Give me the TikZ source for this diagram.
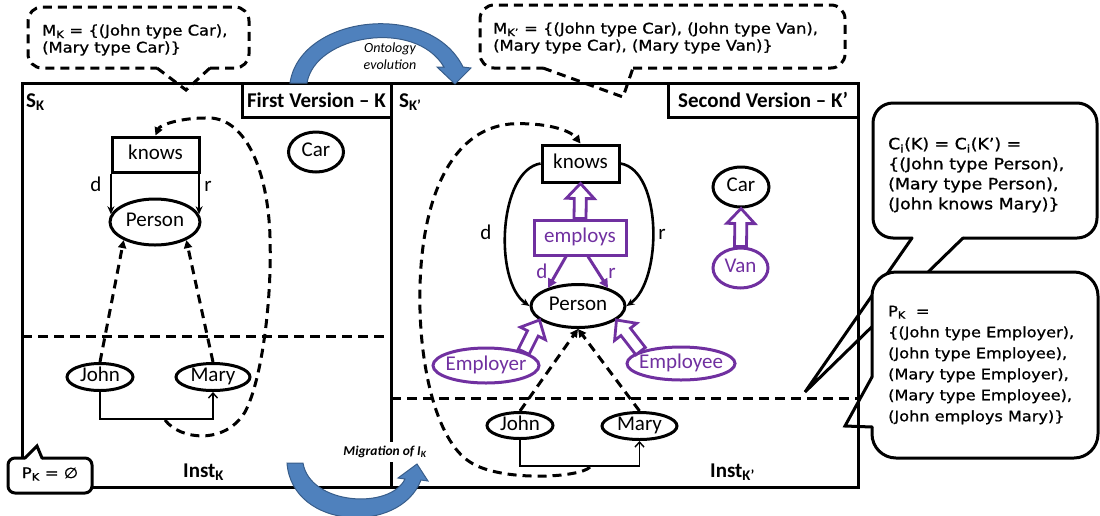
\documentclass[tikz,border=0pt]{standalone}
\usepackage{fontspec}
\setmainfont{Carlito}
\newfontfamily\comicf[FakeStretch=1.12, FakeBold=1]{DejaVu Sans}
\usetikzlibrary{arrows.meta,calc,shapes.geometric}
\definecolor{purp}{HTML}{7030A0}
\definecolor{arrblue}{HTML}{4F81BD}
\definecolor{arredge}{HTML}{385D8A}
\newcommand\hollowarr[2]{%
  \coordinate (hh) at ($(#2)!15pt!(#1)$);
  \draw[hollow] ($(#1)!6pt!90:(#2)$) -- ($(hh)!6pt!90:(#2)$) -- ($(hh)!14pt!90:(#2)$) -- (#2)
     -- ($(hh)!14pt!-90:(#2)$) -- ($(hh)!6pt!-90:(#2)$) -- ($(#1)!6pt!-90:(#2)$) -- cycle;}
\begin{document}
\begin{tikzpicture}[x=1pt,y=-1pt,
  frame/.style={line width=3pt},
  sepline/.style={line width=3pt, dash pattern=on 10pt off 6pt},
  lbl/.style={font=\fontsize{21}{24}\selectfont, inner sep=0pt, text height=13pt, text depth=4pt},
  blbl/.style={font=\bfseries\fontsize{21}{24}\selectfont, inner sep=0pt},
  ellb/.style={ellipse, draw, line width=3pt, inner sep=0pt},
  boxb/.style={rectangle, draw, line width=3pt, inner sep=0pt},
  ctext/.style={font=\comicf\fontsize{14.6}{17}\selectfont, align=left, inner sep=0pt},
  btext/.style={font=\comicf\fontsize{15.5}{20}\selectfont, align=left, inner sep=0pt},
  blk/.style={line width=2.6pt, -{Stealth[length=8pt,width=7pt]}},
  pur/.style={draw=purp, line width=3pt, -{Triangle[length=9pt,width=9pt]}},
  dsh/.style={line width=3pt, dash pattern=on 9pt off 6pt, -{Triangle[length=8pt,width=8pt]}},
  thinarr/.style={line width=1.4pt, -{Straight Barb[length=5pt,width=9pt]}},
  hollow/.style={draw=purp, fill=white, line width=2.8pt, line join=miter},
  bluearr/.style={fill=arrblue, draw=arredge, line width=1pt},
  callout/.style={line width=3pt, line cap=round, line join=round},
  dcallout/.style={line width=3pt, dash pattern=on 9pt off 6pt},
]
\useasboundingbox (0,0) rectangle (1100,515);
\clip (0,0) rectangle (1100,515);

% frames
\draw[frame] (22,83) rectangle (391,487);
\draw[frame] (391,83) rectangle (858,487);
\draw[sepline] (22,336) -- (391,336);
\draw[sepline] (391,398) -- (858,398);
\node[boxb, fill=white, minimum width=149, minimum height=34, font=\bfseries\fontsize{21}{24}\selectfont] (v1) at (316.5,100) {First Version – K};
\node[boxb, fill=white, minimum width=190, minimum height=34, font=\bfseries\fontsize{21}{24}\selectfont] (v2) at (763,100) {Second Version – K’};
\node[blbl, anchor=base west] (sk) at (26,107) {S\textsubscript{K}};
\node[blbl, anchor=base west] (sk2) at (399,107) {S\textsubscript{K’}};
\node[blbl, anchor=base west] (ik) at (183,477) {Inst\textsubscript{K}};
\node[blbl, anchor=base west] (ik2) at (710,477) {Inst\textsubscript{K’}};

% callouts on the right
\fill[white, rounded corners=20pt] (873,103) rectangle (1097,238);
\draw[callout, rounded corners=20pt] (912,238) -- (873,238) -- (873,103) -- (1097,103) -- (1097,238) -- (963,238);
\draw[callout, line join=miter] (912,238) -- (805,392) -- (963,238);
\node[btext, anchor=west] (cit) at (888,175) {C\textsubscript{i}(K) = C\textsubscript{i}(K’) =\\\{(John type Person),\\(Mary type Person),\\(John knows Mary)\}};
\fill[white, rounded corners=24pt] (872,272) rectangle (1098,458);
\draw[callout, rounded corners=24pt] (872,377) -- (872,272) -- (1098,272) -- (1098,458) -- (872,458) -- (872,427);
\draw[callout, line join=miter] (872,377) -- (845,426) -- (872,427);
\node[btext, anchor=west, font=\comicf\fontsize{14.4}{21}\selectfont] (pkt) at (888,365) {P\textsubscript{K}\ \ =\\\{(John type Employer),\\(John type Employee),\\(Mary type Employer),\\(Mary type Employee),\\(John employs Mary)\}};

% left version
\node[boxb, minimum width=87, minimum height=35, lbl] (kn1) at (155.5,154.5) {knows};
\node[ellb, minimum width=90, minimum height=46, lbl] (pe1) at (155,222) {Person};
\node[ellb, minimum width=55, minimum height=40, lbl] (car1) at (316,152) {Car};
\node[ellb, minimum width=66, minimum height=27, lbl] (jo1) at (100,377) {John};
\node[ellb, minimum width=74, minimum height=27, lbl] (ma1) at (213,377) {Mary};
\draw[blk] (pe1.170 |- kn1.south) -- (pe1.170);
\draw[blk] (pe1.10 |- kn1.south) -- (pe1.10);
\node[lbl] (d1) at (96,187) {d};
\node[lbl] (r1) at (208,187) {r};
\draw[dsh] (jo1.north) -- (pe1.210);
\draw[dsh] (ma1.north) -- (pe1.330);
\draw[thinarr] (jo1.south) -- ++(0,27) coordinate (l1) -| (ma1.south);
\draw[dsh] ($(l1)+(65,1)$) .. controls (180,440) and (225,445) .. (245,412)
   .. controls (262,380) and (272,300) .. (270,237)
   .. controls (268,170) and (245,115) .. (205,118)
   .. controls (180,118) and (160,125) .. (kn1.north);

% right version
\node[boxb, minimum width=77, minimum height=37, lbl] (kn2) at (580.5,163.5) {knows};
\node[boxb, draw=purp, text=purp, minimum width=92, minimum height=35, lbl] (empb) at (580,237.5) {employs};
\node[ellb, minimum width=94, minimum height=43, lbl] (pe2) at (578,306) {Person};
\node[ellb, minimum width=56, minimum height=40, lbl] (car2) at (741,187) {Car};
\node[ellb, draw=purp, text=purp, minimum width=55, minimum height=40, lbl] (van) at (740.5,268) {Van};
\node[ellb, draw=purp, text=purp, minimum width=106, minimum height=35, lbl, inner xsep=-4pt] (emr) at (486,365.5) {Employer};
\node[ellb, draw=purp, text=purp, minimum width=108, minimum height=33, lbl, inner xsep=-5pt] (eme) at (681,363.5) {Employee};
\node[ellb, minimum width=66, minimum height=26, lbl] (jo2) at (520,425.5) {John};
\node[ellb, minimum width=75, minimum height=27, lbl] (ma2) at (639.5,426) {Mary};
\draw[blk] (kn2.west) .. controls +(-42,7) and +(-36,-25) .. (pe2.west);
\draw[blk] (kn2.east) .. controls +(42,7) and +(36,-25) .. (pe2.east);
\node[lbl] (d2) at (486,235) {d};
\node[lbl] (r2) at (662,235) {r};
\hollowarr{empb.north}{kn2.south}
\hollowarr{van.north}{car2.south}
\draw[pur] ($(empb.south)+(-14,0)$) -- (pe2.149);
\draw[pur] ($(empb.south)+(8,0)$) -- (pe2.31);
\node[lbl, text=purp] (d3) at (542,274) {d};
\node[lbl, text=purp] (r3) at (612,274) {r};
\hollowarr{emr.20}{pe2.200}
\hollowarr{eme.163}{pe2.340}
\draw[dsh] (jo2.north) -- (pe2.south);
\draw[dsh] (ma2.north) -- (pe2.south);
\draw[thinarr] (jo2.south) -- ++(0,26) coordinate (l2) -| (ma2.south);
\draw[dsh] ($(l2)+(70,1)$) .. controls (580,478) and (500,482) .. (470,462)
   .. controls (435,440) and (418,360) .. (420,287)
   .. controls (422,200) and (450,130) .. (510,124)
   .. controls (545,122) and (570,130) .. (kn2.north);

% P_K empty callout
\fill[white, rounded corners=7pt] (8,458) rectangle (92,493);
\fill[white] (25,458) -- (37,446) -- (42,458) -- cycle;
\draw[callout, rounded corners=7pt] (42,458) -- (92,458) -- (92,493) -- (8,493) -- (8,458) -- (25,458);
\draw[callout, line join=miter] (25,458) -- (37,446) -- (42,458);
\node[ctext] (pk0) at (50,474) {P\textsubscript{K} = ∅};

% top callouts
\draw[dcallout, rounded corners=14pt] (210,68) -- (249,68) -- (249,7) -- (28,7) -- (28,68) -- (157,68);
\draw[dcallout] (157,68) -- (186,90) -- (210,68);
\node[ctext, anchor=west] (mkt) at (42,40) {M\textsubscript{K} = \{(John type Car),\\(Mary type Car)\}};
\draw[dcallout, rounded corners=14pt] (633,68) -- (845,68) -- (845,5) -- (480,5) -- (480,68) -- (543,68);
\draw[dcallout] (543,68) -- (623,97) -- (633,68);
\node[ctext, anchor=west] (mkt2) at (493,38) {M\textsubscript{K’} = \{(John type Car), (John type Van),\\(Mary type Car), (Mary type Van)\}};

% blue arrows
\filldraw[bluearr] (290,83) .. controls (300,15) and (430,0) .. (463,67) -- (471,68) -- (455,84) -- (437,67) -- (444,67) .. controls (415,18) and (315,35) .. (307,83) -- cycle;
\node[font=\itshape\fontsize{14}{17}\selectfont, align=center, inner sep=0pt] (onto) at (390,56) {Ontology\\evolution};
\filldraw[bluearr] (287,463) .. controls (292,530) and (400,535) .. (421,480) -- (428,481) -- (417,464) -- (398,478) -- (405,479) .. controls (390,510) and (310,505) .. (303,463) -- cycle;
\node[fill=white, inner xsep=1pt, inner ysep=4pt, font=\bfseries\itshape\fontsize{13.5}{15}\selectfont] (mig) at (385,452) {Migration of I\textsubscript{K}};
\end{tikzpicture}
\end{document}
